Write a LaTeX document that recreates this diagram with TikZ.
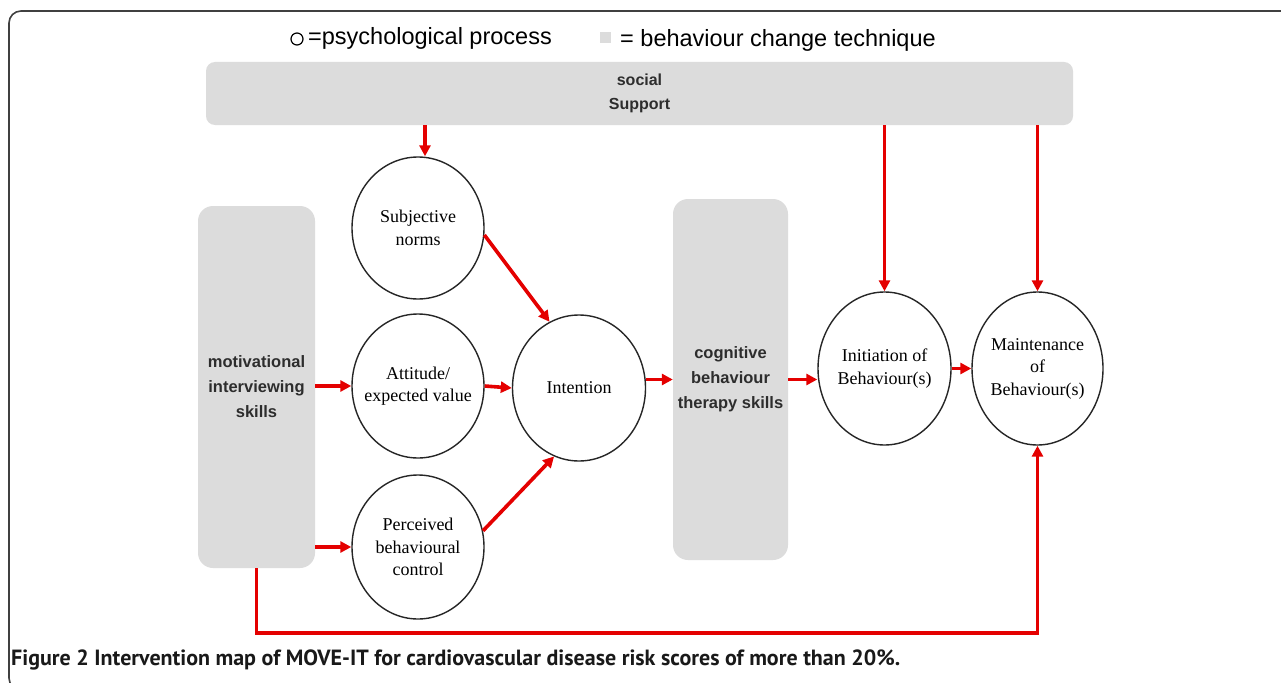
\documentclass[tikz,border=0pt]{standalone}
\usepackage{fontspec}
\setmainfont{Liberation Serif}
\newfontfamily\arialf{Liberation Sans}
\newfontfamily\capf{PT Sans}
\usetikzlibrary{shapes.geometric,arrows.meta,calc}
\definecolor{arrred}{RGB}{228,0,0}
\definecolor{techgray}{RGB}{220,220,220}
\definecolor{txtgray}{RGB}{45,45,45}
\begin{document}
\begin{tikzpicture}[x=1pt,y=-1pt,
  proc/.style={ellipse, draw=black!85, line width=1.4pt, fill=white, inner sep=0pt},
  ptext/.style={font=\fontsize{18pt}{22.5pt}\selectfont, align=center, text=black},
  tech/.style={fill=techgray, rounded corners=15pt, inner sep=0pt, align=center,
    text=txtgray, font=\arialf\bfseries\fontsize{16.5pt}{25pt}\selectfont},
  arr/.style={draw=arrred, line width=3.6pt, -{Triangle[length=11pt,width=11pt]}},
  legend/.style={font=\arialf\fontsize{23.5pt}{28pt}\selectfont, text=black, inner sep=0pt},
  frame/.style={draw=black!75, line width=1.6pt, rounded corners=12pt}
]
\useasboundingbox (0,0) rectangle (1281,682);
\clip (0,0) rectangle (1281,682);
\path[fill=white] (0,0) rectangle (1281,682);
\draw[frame] (9,11) rectangle (1320,690);

% legend
\node[circle, draw=black, line width=1.2pt, minimum size=12pt, inner sep=0pt] (lc) at (297,39) {};
\node[legend, anchor=west] (lt1) at (308,38) {=psychological process};
\node[fill=techgray, minimum size=11pt, inner sep=0pt] (lsq) at (605,38) {};
\node[legend, anchor=west] (lt2) at (620,40) {= behaviour change technique};

% behaviour change techniques
\node[tech, rounded corners=9pt, minimum width=867pt, minimum height=63pt,
  font=\arialf\bfseries\fontsize{16pt}{24pt}\selectfont] (bar) at (639.5,93.5) {social\\Support};
\node[tech, minimum width=117pt, minimum height=362pt] (mot) at (256.5,387) {motivational\\interviewing\\skills};
\node[tech, minimum width=115pt, minimum height=361pt] (cog) at (730.5,379.5) {cognitive\\behaviour\\therapy skills};

% psychological processes
\node[proc, minimum width=132pt, minimum height=142pt,
  label={[ptext]center:Subjective\\norms}] (sub) at (418,228) {};
\node[proc, minimum width=132pt, minimum height=144pt,
  label={[ptext]center:Attitude/\\expected value}] (att) at (418,386) {};
\node[proc, minimum width=132pt, minimum height=144pt,
  label={[ptext]center:Perceived\\behavioural\\control}] (perc) at (418,547) {};
\node[proc, minimum width=133pt, minimum height=146pt,
  label={[ptext]center:Intention}] (int) at (579,388) {};
\node[proc, minimum width=133pt, minimum height=153pt,
  label={[ptext]center:Initiation of\\Behaviour(s)}] (init) at (884.5,368.5) {};
\node[proc, minimum width=131pt, minimum height=153pt,
  label={[ptext]center:Maintenance\\of\\Behaviour(s)}] (maint) at (1037.5,368.5) {};

\coordinate (low) at (640,633);

% connectors
\draw[arr] ([xshift=7pt]sub.north |- bar.south) -- ([xshift=7pt]sub.north);
\draw[arr] (init.north |- bar.south) -- (init.north);
\draw[arr] (maint.north |- bar.south) -- (maint.north);
\draw[arr] (mot.east |- att.west) -- (att.west);
\draw[arr] (mot.east |- perc.west) -- (perc.west);
\draw[arr] (sub.-6) -- (int.114);
\draw[arr] (att.east) -- (int.west);
\draw[arr] (perc.14) -- (int.250);
\draw[arr] (int.east |- cog.west) -- (cog.west);
\draw[arr] (cog.east) -- (init.west |- cog.east);
\draw[arr] (init.east) -- (maint.west);
\draw[arr] (mot.south) -- (mot.south |- low) -| (maint.south);

% caption
\node[anchor=base west, inner sep=0pt, text=black!90,
  font=\capf\bfseries\fontsize{22pt}{26pt}\selectfont] (cap) at (11,665)
  {Figure 2 Intervention map of MOVE-IT for cardiovascular disease risk scores of more than 20\%.};
\end{tikzpicture}
\end{document}
